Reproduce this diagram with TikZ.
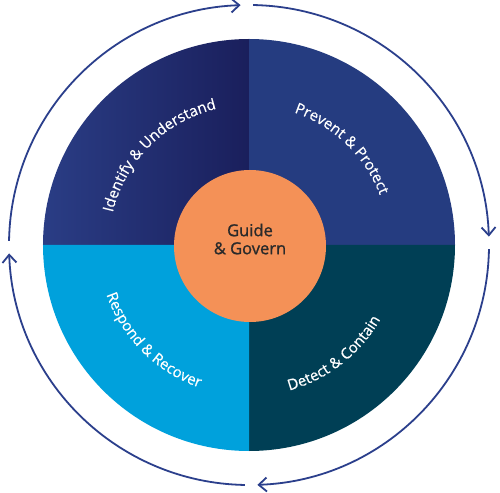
\documentclass[tikz,border=0pt]{standalone}
\usepackage{fontspec}
\setmainfont{Open Sans}
\usetikzlibrary{arrows.meta,decorations.text}
\definecolor{ringc}{HTML}{2B3F8C}
\definecolor{idl}{HTML}{2A3D85}
\definecolor{idr}{HTML}{1A1F5C}
\definecolor{prevc}{HTML}{253C80}
\definecolor{detc}{HTML}{003F55}
\definecolor{respc}{HTML}{00A1DC}
\definecolor{orangec}{HTML}{F49157}
\definecolor{textc}{HTML}{2A2A2A}
\begin{document}
\begin{tikzpicture}[x=1pt,y=1pt,
  ringarc/.style={draw=ringc, line width=1.8pt, -{Straight Barb[length=8pt,width=14pt]}}
]
\useasboundingbox (-249,-247) rectangle (251,245);
\fill[white] (-249,-247) rectangle (251,245);
\def\R{206}
% quadrants
\shade[left color=idl, right color=idr] (0,0) -- (180:\R) arc[start angle=180,end angle=90,radius=\R] -- cycle;
\fill[prevc] (0,0) -- (90:\R) arc[start angle=90,end angle=0,radius=\R] -- cycle;
\fill[detc] (0,0) -- (0:\R) arc[start angle=0,end angle=-90,radius=\R] -- cycle;
\fill[respc] (0,0) -- (-90:\R) arc[start angle=-90,end angle=-180,radius=\R] -- cycle;
% centre
\node[circle, fill=orangec, minimum size=152pt, inner sep=0pt] (gg) at (1,-1) {};
\node[align=center, font=\addfontfeature{FakeBold=1.2}\fontsize{16.5}{18}\selectfont, text=textc]
  (ggt) at ([yshift=7pt]gg.center) {Guide\\\& Govern};
% quadrant labels
\path[decorate, decoration={text along path, text color=white, text align=center,
  text={|\addfontfeature{FakeBold=0.5}\fontsize{15}{17}\selectfont|Identify {\&} Understand}}]
  (184:140) arc[start angle=184,end angle=86,radius=140];
\path[decorate, decoration={text along path, text color=white, text align=center,
  text={|\addfontfeature{FakeBold=0.5}\fontsize{15}{17}\selectfont|Prevent {\&} Protect}}]
  (95:140) arc[start angle=95,end angle=-3,radius=140];
\path[decorate, decoration={text along path, text color=white, text align=center,
  text={|\addfontfeature{FakeBold=0.5}\fontsize{15}{17}\selectfont|Respond {\&} Recover}}]
  (176:151) arc[start angle=176,end angle=274,radius=151];
\path[decorate, decoration={text along path, text color=white, text align=center,
  text={|\addfontfeature{FakeBold=0.5}\fontsize{15}{17}\selectfont|Detect {\&} Contain}}]
  (259:151) arc[start angle=259,end angle=357,radius=151];
% outer ring
\draw[ringarc] (89:240) arc[start angle=89,end angle=2,radius=240];
\draw[ringarc] (-1:240) arc[start angle=-1,end angle=-88,radius=240];
\draw[ringarc] (-91:240) arc[start angle=-91,end angle=-178,radius=240];
\draw[ringarc] (179:240) arc[start angle=179,end angle=92,radius=240];
\end{tikzpicture}
\end{document}
